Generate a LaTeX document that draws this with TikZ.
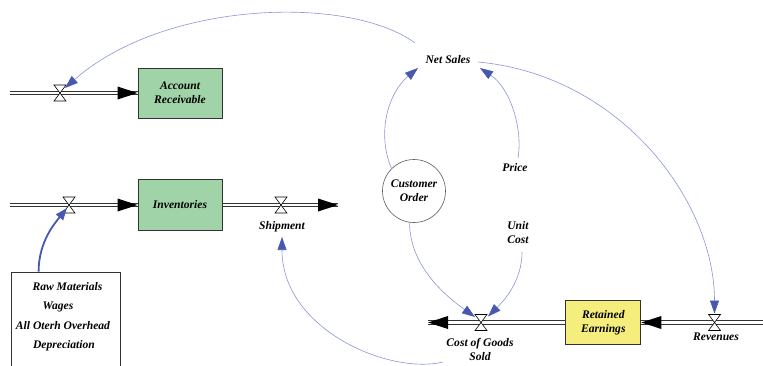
\documentclass[tikz,border=0pt]{standalone}
\usepackage{fontspec}
\setmainfont{Liberation Serif}
\usetikzlibrary{arrows.meta,calc}
\definecolor{stockgreen}{HTML}{A0D4A8}
\definecolor{stockyellow}{HTML}{F5EE7C}
\definecolor{linkline}{HTML}{8C94D8}
\definecolor{linkhead}{HTML}{4858B0}
\definecolor{pipecol}{HTML}{333333}
\newcommand\drawvalve[1]{\draw[fill=white, draw=black, line width=0.6pt] (#1.north west) -- (#1.north east) -- (#1.south west) -- (#1.south east) -- cycle;}
\begin{document}
\begin{tikzpicture}[x=1pt,y=-1pt,
  every node/.style={font=\fontsize{11.6}{14}\selectfont\bfseries\itshape, text=black},
  stock/.style={draw=pipecol, line width=1pt, minimum width=84pt, minimum height=50pt, inner sep=0pt, align=center},
  lbl/.style={inner sep=0pt, align=center},
  pipeline/.style={draw=pipecol, line width=1pt, double=white, double distance=2.6pt},
  valve/.style={minimum width=12pt, minimum height=16pt, inner sep=0pt, outer sep=0pt},
  link/.style={draw=linkline, line width=0.6pt, -{Triangle[length=13pt,width=9pt,color=linkhead]}},
  thicklink/.style={draw=linkhead, line width=1.8pt, -{Triangle[length=12pt,width=9pt,color=linkhead]}},
]
\clip (0,0) rectangle (763,365);
\fill[white] (0,0) rectangle (763,365);

% stocks
\node[stock, fill=stockgreen] (ar) at (180,93) {Account\\Receivable};
\node[stock, fill=stockgreen, minimum height=51pt] (inv) at (180,205) {Inventories};
\node[stock, fill=stockyellow, minimum width=75pt, minimum height=44pt] (re) at (603.3,322.5) {Retained\\Earnings};

% free pipe ends
\coordinate (arin) at (10,93);
\coordinate (invin) at (10,205);
\coordinate (shipend) at (338,205);
\coordinate (cogsend) at (428,322.5);
\coordinate (revin) at (770,322.5);

% pipes
\draw[pipeline] (arin) -- (ar.west);
\fill[black] (ar.west) -- ++(-20,-6.5) -- ++(0,13) -- cycle;
\draw[pipeline] (invin) -- (inv.west);
\fill[black] (inv.west) -- ++(-20,-6.5) -- ++(0,13) -- cycle;
\draw[pipeline] (inv.east) -- (shipend);
\fill[black] (shipend) -- ++(-20,-6.5) -- ++(0,13) -- cycle;
\draw[pipeline] (re.west) -- (cogsend);
\fill[black] (cogsend) -- ++(20,-6.5) -- ++(0,13) -- cycle;
\draw[pipeline] (revin) -- (re.east);
\fill[black] (re.east) -- ++(20,-6.5) -- ++(0,13) -- cycle;

% valves
\node[valve] (v1) at (60,93) {};
\node[valve] (v2) at (69,205) {};
\node[valve] (v3) at (281,205) {};
\node[valve] (v4) at (481,322.5) {};
\node[valve] (v5) at (714.5,322.5) {};
\drawvalve{v1}\drawvalve{v2}\drawvalve{v3}\drawvalve{v4}\drawvalve{v5}

% labels
\node[lbl] (ns) at (448,60) {Net Sales};
\node[lbl] (pr) at (515,168) {Price};
\node[lbl] (uc) at (518,233) {Unit\\Cost};
\node[lbl] (ship) at (282,227) {Shipment};
\node[lbl] (cogs) at (480,349) {Cost of Goods\\Sold};
\node[lbl] (rev) at (716,337) {Revenues};

% customer order
\node[circle, draw=pipecol!80, line width=0.6pt, minimum size=63pt, inner sep=0pt, align=center] (co) at (414,191) {Customer\\Order};

% raw materials box
\node[draw=pipecol, line width=0.8pt, minimum width=109pt, minimum height=100pt, inner sep=0pt] (rm) at (65.5,322) {};
\node[lbl] (rm1) at (67.5,287) {Raw Materials};
\node[lbl] (rm2) at (58,306.5) {Wages};
\node[lbl] (rm3) at (63,326) {All Oterh Overhead};
\node[lbl] (rm4) at (64,345.5) {Depreciation};

% links
\draw[link] ($(ns.center)+(-33,-17)$) .. controls +(-65,-48) and +(100,-88) .. ($(v1.center)+(5,-5)$);
\draw[link] (co.135) .. controls +(-15,-35) and +(-30,25) .. ($(ns.center)+(-30,8)$);
\draw[link] ($(pr.center)+(3,-10)$) .. controls +(5,-30) and +(30,20) .. ($(ns.center)+(32,8)$);
\draw[link] ($(ns.center)+(30,2)$) .. controls +(142,13) and +(0,-113) .. ($(v5.center)+(0,-9)$);
\draw[link] (co.262) .. controls +(0,40) and +(-35,-25) .. ($(v4.center)+(-6,-5.5)$);
\draw[link] ($(uc.center)+(4,19)$) .. controls +(0,30) and +(15,-15) .. ($(v4.center)+(7,-6)$);
\draw[link] ($(cogs.center)+(-37,13)$) .. controls +(-53,13) and +(0,93) .. ($(ship.center)+(0,10)$);
\draw[thicklink] ($(rm.north west)+(28,0)$) .. controls +(0,-30) and +(-12,15) .. ($(v2.center)+(-2,3)$);
\end{tikzpicture}
\end{document}
